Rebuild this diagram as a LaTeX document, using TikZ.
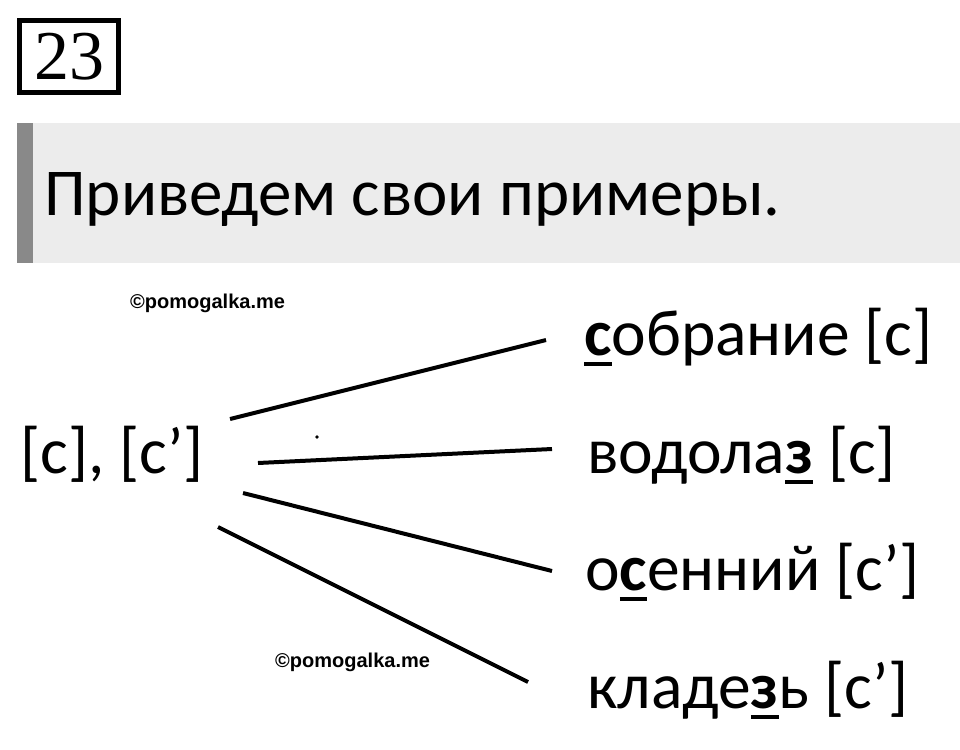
\documentclass[tikz,border=0pt]{standalone}
\usepackage{fontspec}
\setmainfont{Carlito}
\newfontfamily\serifnum{Liberation Serif}
\newfontfamily\wmfont{Liberation Sans}
\definecolor{bannerbg}{HTML}{ECECEC}
\definecolor{bannerbar}{HTML}{898989}
\newcommand\ulb[1]{\setbox0\hbox{\bfseries #1}\rlap{\rule[-10.5pt]{\wd0}{3.8pt}}\box0\relax}
\begin{document}
\begin{tikzpicture}[x=1pt,y=-1pt,
  word/.style={anchor=base west, inner sep=0pt, font=\fontsize{65.5}{70}\selectfont},
  link/.style={line width=4pt},
  wm/.style={anchor=base west, inner sep=0pt, font=\wmfont\bfseries\fontsize{20}{22}\selectfont}]
\useasboundingbox (0,0) rectangle (960,749);
\fill[white] (0,0) rectangle (960,749);
% number box
\node[draw, line width=5pt, minimum width=99pt, minimum height=72pt, inner sep=0pt,
  font=\serifnum\fontsize{70}{75}\selectfont] (num) at (69,56.5) {23};
% banner
\fill[bannerbg] (17,123) rectangle (960,263);
\fill[bannerbar] (17,123) rectangle (33,263);
\node[word, font=\fontsize{67}{72}\selectfont] (title) at (44,215) {Приведем свои примеры.};
% source
\node[word] (src) at (20,473) {[с], [с’]};
% words
\node[word] (w1) at (584,355) {\ulb{с}обрание [с]};
\node[word] (w2) at (587,473) {водола\ulb{з} [с]};
\node[word] (w3) at (585,590) {о\ulb{с}енний [с’]};
\node[word] (w4) at (587,708) {кладе\ulb{з}ь [с’]};
% connectors
\coordinate (a1) at (230,419); \coordinate (b1) at (546,340);
\coordinate (a2) at (258,463); \coordinate (b2) at (552,449);
\coordinate (a3) at (243,493); \coordinate (b3) at (552,571);
\coordinate (a4) at (218,527); \coordinate (b4) at (528,682);
\draw[link] (a1) -- (b1);
\draw[link] (a2) -- (b2);
\draw[link] (a3) -- (b3);
\draw[link] (a4) -- (b4);
\fill (317,437) circle (1.8);
% watermarks
\node[wm] (wm1) at (130,308) {©pomogalka.me};
\node[wm] (wm2) at (275,667) {©pomogalka.me};
\end{tikzpicture}
\end{document}
